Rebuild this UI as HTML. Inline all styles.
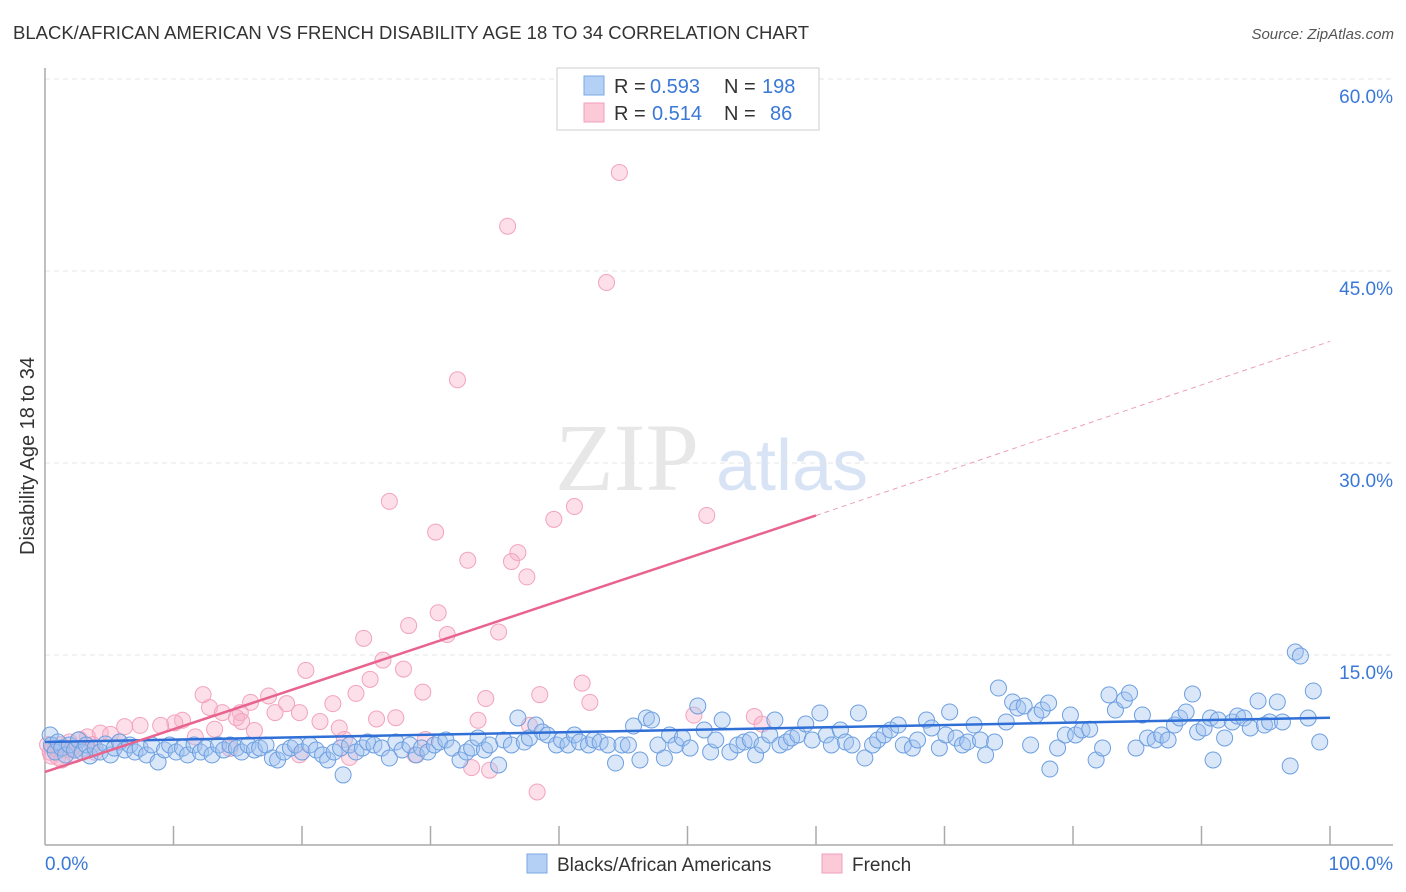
<!DOCTYPE html>
<html><head><meta charset="utf-8"><style>
body{margin:0;background:#fff;width:1406px;height:892px;overflow:hidden;font-family:"Liberation Sans",sans-serif}
</style></head><body>
<svg id="chart" width="1406" height="892" style="position:absolute;left:0;top:0">
<text x="13" y="39" font-size="18.5" fill="#333">BLACK/AFRICAN AMERICAN VS FRENCH DISABILITY AGE 18 TO 34 CORRELATION CHART</text>
<text x="1394" y="39" font-size="15" fill="#555" font-style="italic" text-anchor="end">Source: ZipAtlas.com</text>
<text x="0" y="0" transform="translate(34,456) rotate(-90)" font-size="20" fill="#333" text-anchor="middle">Disability Age 18 to 34</text>
<g><text x="555" y="490" font-size="96" fill="#ddd" font-family="Liberation Serif,serif" opacity="0.7">ZIP</text><text x="716" y="490" font-size="72" fill="#c8daf2" opacity="0.7">atlas</text></g>
<g id="grid"></g><g id="axes"></g><g id="pink"></g><g id="blue"></g><g id="trends"></g>
<g>
<rect x="557" y="68" width="262" height="62" fill="#fff" stroke="#ccc"/>
<rect x="584" y="76" width="20" height="19" fill="#b5d0f5" stroke="#7aa7e6"/>
<rect x="584" y="103" width="20" height="19" fill="#fbc9d8" stroke="#f0a0bb"/>
<g font-size="20" fill="#333">
<text x="614" y="93">R =</text><text x="650" y="93" fill="#3a78d8">0.593</text><text x="724" y="93">N =</text><text x="762" y="93" fill="#3a78d8">198</text>
<text x="614" y="120">R =</text><text x="652" y="120" fill="#3a78d8">0.514</text><text x="724" y="120">N =</text><text x="770" y="120" fill="#3a78d8">86</text>
</g>
</g>
<g>
<rect x="527" y="854" width="20" height="19" fill="#b5d0f5" stroke="#7aa7e6"/>
<text x="557" y="871" font-size="19" fill="#333">Blacks/African Americans</text>
<rect x="822" y="854" width="20" height="19" fill="#fbc9d8" stroke="#f0a0bb"/>
<text x="852" y="871" font-size="19" fill="#333">French</text>
</g>
</svg>
<script>
const yTicks=[15,30,45,60];
const xTickCount=10;
const blueTrend=[8.2,10.1];
const pinkTrend=[5.86,25.9,39.5];
const pinkX=[44.7,36.0,43.7,32.1,26.8,41.2,51.5,39.6,30.4,36.8,32.9,36.3,37.5,30.6,28.3,35.3,31.3,24.8,26.3,20.3,27.9,25.3,41.8,29.4,24.2,12.3,17.4,38.5,34.3,42.4,22.4,18.8,16.0,12.8,13.8,19.8,17.9,15.2,55.2,50.5,14.9,10.7,25.8,27.3,21.4,33.7,15.3,10.1,9.0,7.4,6.2,13.2,16.3,22.9,55.8,37.7,4.3,5.1,3.3,11.7,2.7,23.3,29.6,1.9,1.2,0.8,0.4,1.6,2.1,3.0,0.5,1.0,1.3,14.4,28.8,23.7,33.2,34.6,38.3,19.8,3.9,2.3,0.2,3.7,5.8];
const pinkY=[52.7,48.5,44.1,36.5,27.0,26.6,25.9,25.6,24.6,23.0,22.4,22.3,21.1,18.3,17.3,16.8,16.6,16.3,14.6,13.8,13.9,13.1,12.8,12.1,12.0,11.9,11.8,11.9,11.6,11.3,11.2,11.2,11.3,10.9,10.5,10.5,10.5,10.5,10.2,10.3,10.1,9.9,10.0,10.1,9.8,9.9,9.8,9.7,9.5,9.5,9.4,9.2,9.1,9.3,9.6,9.5,8.9,8.8,8.6,8.6,8.4,8.4,8.4,8.2,8.0,7.7,7.4,7.6,7.7,7.7,7.1,7.0,6.8,7.7,7.2,7.0,6.2,6.0,4.3,7.2,7.4,7.2,8.0,8.0,8.2];
const blueX=[0.4,0.5,0.8,1.0,1.3,1.6,1.9,2.3,2.6,2.9,3.2,3.5,3.9,4.3,4.7,5.1,5.4,5.8,6.2,6.6,7.0,7.4,7.9,8.3,8.8,9.3,9.7,10.2,10.7,11.1,11.6,12.1,12.5,13.0,13.5,13.9,14.4,14.9,15.3,15.8,16.3,16.7,17.2,17.7,18.1,18.6,19.1,19.5,20.0,20.6,21.1,21.6,22.0,22.5,23.0,23.2,23.7,24.2,24.7,25.1,25.6,26.2,26.8,27.3,27.8,28.4,28.9,29.3,29.8,30.3,30.7,31.2,31.7,32.3,32.8,33.2,33.7,34.2,34.6,35.3,35.7,36.3,36.8,37.3,37.7,38.2,38.7,39.1,39.8,40.2,40.7,41.2,41.6,42.3,42.7,43.2,43.8,44.4,44.9,45.4,45.8,46.3,46.8,47.2,47.7,48.2,48.6,49.1,49.6,50.2,50.8,51.3,51.8,52.2,52.7,53.3,53.9,54.4,54.9,55.3,55.8,56.4,56.8,57.2,57.7,58.1,58.6,59.2,59.7,60.3,60.8,61.2,61.9,62.3,62.8,63.3,63.8,64.4,64.8,65.3,65.8,66.4,66.8,67.5,67.9,68.6,69.0,69.6,70.1,70.4,70.9,71.4,71.8,72.3,72.8,73.2,73.9,74.2,74.8,75.3,75.7,76.2,76.7,77.1,77.6,78.1,78.2,78.8,79.4,79.8,80.2,80.7,81.3,81.8,82.3,82.8,83.3,84.0,84.4,84.9,85.4,85.8,86.4,86.9,87.4,87.9,88.3,88.8,89.3,89.7,90.2,90.7,90.9,91.3,91.8,92.4,92.8,93.3,93.8,94.4,94.9,95.3,95.9,96.3,96.9,97.3,97.7,98.7,99.2,98.3];
const blueY=[8.75,7.97,7.42,8.2,7.73,7.19,7.97,7.58,8.36,7.42,7.97,7.11,7.73,7.42,8.05,7.19,7.73,8.2,7.58,7.97,7.42,7.73,7.19,7.97,6.64,7.58,7.97,7.42,7.73,7.19,7.97,7.42,7.73,7.19,7.97,7.58,7.97,7.73,7.42,7.97,7.58,7.73,7.97,6.95,6.8,7.42,7.73,7.97,7.42,7.97,7.58,7.19,6.8,7.42,7.73,5.63,7.97,7.42,7.73,8.2,7.97,7.73,6.95,8.2,7.58,7.97,7.19,7.73,7.42,7.97,8.2,8.36,7.73,6.8,7.42,7.73,8.52,7.58,7.97,6.41,8.36,7.97,10.08,8.2,8.52,9.53,8.98,8.75,7.97,8.36,7.97,8.75,8.2,7.97,8.36,8.2,7.97,6.56,7.97,7.97,9.45,6.8,10.08,9.92,7.97,6.95,8.75,7.97,8.52,7.73,11.02,9.14,7.42,8.36,9.92,7.42,7.97,8.2,8.36,7.19,7.97,8.75,9.92,7.97,8.2,8.52,8.75,9.61,8.36,10.47,8.75,7.97,9.14,8.2,7.97,10.47,6.95,7.97,8.36,8.75,9.14,9.53,7.97,7.73,8.36,9.92,9.3,7.73,8.75,10.55,8.52,7.97,8.2,9.53,8.36,7.19,8.2,12.42,9.77,11.33,10.86,11.02,7.97,10.31,10.7,11.25,6.09,7.73,8.75,10.31,8.75,9.14,9.2,6.8,7.73,11.88,10.7,11.48,12.03,7.73,10.31,8.52,8.36,8.75,8.36,9.53,10.08,10.55,11.95,8.98,9.3,10.08,6.8,9.92,8.52,9.77,10.23,10.08,9.3,11.41,9.53,9.77,11.33,9.77,6.33,15.23,14.92,12.19,8.2,10.08];
const X0=45,X1=1330,Y0=847,PY=12.8;
const xs=v=>X0+(X1-X0)*v/100, ys=v=>Y0-v*PY;
const NS='http://www.w3.org/2000/svg';
function mk(tag,attrs,parent){const e=document.createElementNS(NS,tag);for(const k in attrs)e.setAttribute(k,attrs[k]);document.getElementById(parent).appendChild(e);return e;}
yTicks.forEach(t=>{
 const l=mk('line',{x1:45,x2:1393,y1:ys(t),y2:ys(t),stroke:'#e4e4e4','stroke-dasharray':'5,4'},'grid');
 
 
 const tx=mk('text',{x:1393,y:ys(t)+24,'font-size':19,fill:'#3a78d8','text-anchor':'end'},'grid');
 tx.textContent=t.toFixed(1)+'%';
 
 
});
const topGrid=mk('line',{x1:45,x2:1393,y1:79,y2:79,stroke:'#e4e4e4','stroke-dasharray':'5,4'},'grid');


const ya=mk('line',{x1:45,x2:45,y1:68,y2:845,stroke:'#aaa','stroke-width':1.5},'axes');


const xa=mk('line',{x1:45,x2:1393,y1:845,y2:845,stroke:'#aaa','stroke-width':1.5},'axes');


for(let i=1;i<=xTickCount;i++){const x=xs(i*100/xTickCount);
 const t=mk('line',{x1:x,x2:x,y1:826,y2:845,stroke:'#aaa','stroke-width':1.5},'axes');
 
 }
const l0=mk('text',{x:45,y:870,'font-size':19,fill:'#3a78d8'},'axes');l0.textContent='0.0%';


const l1=mk('text',{x:1393,y:870,'font-size':19,fill:'#3a78d8','text-anchor':'end'},'axes');l1.textContent='100.0%';


pinkX.forEach((v,i)=>{const c=mk('circle',{cx:xs(v),cy:ys(pinkY[i]),r:8,fill:'rgba(248,175,200,0.4)',stroke:'#f2a3bd','stroke-width':1},'pink');
 
 });
blueX.forEach((v,i)=>{const c=mk('circle',{cx:xs(v),cy:ys(blueY[i]),r:8,fill:'rgba(160,196,240,0.4)',stroke:'#6d9fe0','stroke-width':1},'blue');
 
 });
const bt=mk('line',{x1:xs(0),y1:ys(blueTrend[0]),x2:xs(100),y2:ys(blueTrend[1]),stroke:'#2f6fd6','stroke-width':2.5},'trends');


const pt=mk('line',{x1:xs(0),y1:ys(pinkTrend[0]),x2:xs(60),y2:ys(pinkTrend[1]),stroke:'#e8648e','stroke-width':2.5},'trends');


const pd=mk('line',{x1:xs(60),y1:ys(pinkTrend[1]),x2:xs(100),y2:ys(pinkTrend[2]),stroke:'#eca0b8','stroke-width':1,'stroke-dasharray':'5,4'},'trends');


</script>
</body></html>
